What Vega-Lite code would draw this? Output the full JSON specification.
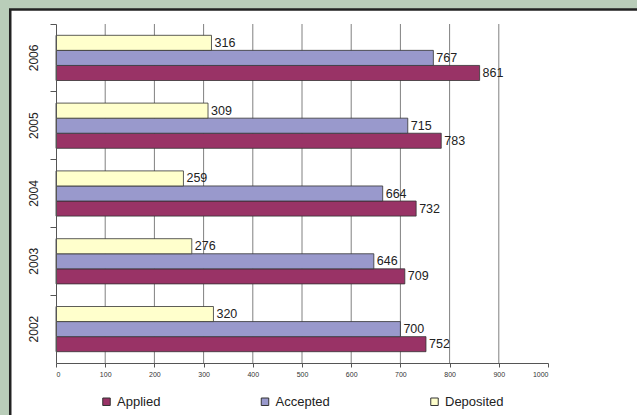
{
  "$schema": "https://vega.github.io/schema/vega-lite/v6.json",
  "width": 492,
  "height": 339,
  "autosize": {"type": "none"},
  "padding": {"left": 56, "top": 24, "right": 89, "bottom": 52},
  "background": "#b9cdb9",
  "config": {"view": {"stroke": null}, "font": "Liberation Sans"},
  "resolve": {"scale": {"y": "independent"}},
  "layer": [
    {
      "data": {"values": [{"panel": "frame"}]},
      "mark": {"type": "rect", "fill": "white", "stroke": "#222222", "strokeWidth": 2.5},
      "encoding": {
        "x": {"datum": -93, "type": "quantitative", "scale": {"domain": [0, 1000], "nice": false}, "title": null},
        "x2": {"datum": 1300},
        "y": {"datum": 1.043, "type": "quantitative", "scale": {"domain": [0, 1], "nice": false}, "axis": null},
        "y2": {"datum": -0.3}
      }
    },
    {
      "data": {"values": [{"v": 100}, {"v": 200}, {"v": 300}, {"v": 400}, {"v": 500}, {"v": 600}, {"v": 700}, {"v": 800}, {"v": 900}]},
      "mark": {"type": "rule", "color": "#808080", "strokeWidth": 1},
      "encoding": {
        "x": {"field": "v", "type": "quantitative", "scale": {"domain": [0, 1000], "nice": false}, "title": null}
      }
    },
    {
      "data": {
        "values": [
          {"Year": "2006", "Series": "Applied", "Value": 861},
          {"Year": "2006", "Series": "Accepted", "Value": 767},
          {"Year": "2006", "Series": "Deposited", "Value": 316},
          {"Year": "2005", "Series": "Applied", "Value": 783},
          {"Year": "2005", "Series": "Accepted", "Value": 715},
          {"Year": "2005", "Series": "Deposited", "Value": 309},
          {"Year": "2004", "Series": "Applied", "Value": 732},
          {"Year": "2004", "Series": "Accepted", "Value": 664},
          {"Year": "2004", "Series": "Deposited", "Value": 259},
          {"Year": "2003", "Series": "Applied", "Value": 709},
          {"Year": "2003", "Series": "Accepted", "Value": 646},
          {"Year": "2003", "Series": "Deposited", "Value": 276},
          {"Year": "2002", "Series": "Applied", "Value": 752},
          {"Year": "2002", "Series": "Accepted", "Value": 700},
          {"Year": "2002", "Series": "Deposited", "Value": 320}
        ]
      },
      "encoding": {
        "x": {
          "field": "Value", "type": "quantitative",
          "scale": {"domain": [0, 1000], "nice": false},
          "title": null,
          "axis": {
            "grid": false, "values": [0, 100, 200, 300, 400, 500, 600, 700, 800, 900, 1000],
            "format": "d",
            "tickSize": 4, "tickColor": "#555555", "domainColor": "#555555",
            "labelFontSize": 7, "labelColor": "#333333", "labelPadding": 3, "zindex": 1
          }
        },
        "y": {
          "field": "Year", "type": "nominal", "sort": "descending",
          "scale": {"paddingInner": 0, "paddingOuter": 0},
          "title": null,
          "axis": {
            "labelAngle": -90, "bandPosition": 0, "tickSize": 6,
            "tickColor": "#555555", "domainColor": "#555555",
            "labelFontSize": 12, "labelColor": "#222222", "labelPadding": 10, "zindex": 1
          }
        },
        "yOffset": {
          "field": "Series", "type": "nominal",
          "sort": ["Deposited", "Accepted", "Applied"],
          "scale": {"paddingInner": 0, "paddingOuter": 0.75}
        }
      },
      "layer": [
        {
          "mark": {"type": "bar", "stroke": "#333333", "strokeWidth": 0.8},
          "encoding": {
            "color": {
              "field": "Series", "type": "nominal",
              "scale": {"domain": ["Applied", "Accepted", "Deposited"], "range": ["#993366", "#9999cc", "#ffffcc"]},
              "legend": {
                "orient": "none", "legendX": 44, "legendY": 371, "direction": "horizontal",
                "title": null, "symbolType": "square", "symbolSize": 56,
                "symbolStrokeColor": "#333333", "symbolStrokeWidth": 1,
                "labelFontSize": 13, "labelColor": "#222222", "columnPadding": 97.5, "labelOffset": 4
              }
            }
          }
        },
        {
          "mark": {"type": "text", "align": "left", "baseline": "middle", "dx": 3, "fontSize": 12.5, "color": "#222222"},
          "encoding": {
            "text": {"field": "Value", "type": "quantitative"}
          }
        }
      ]
    }
  ]
}
